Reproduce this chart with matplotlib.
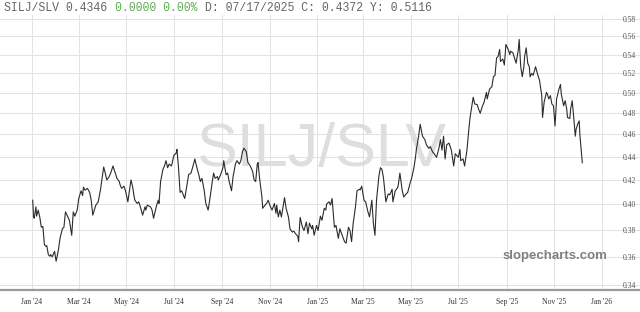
import matplotlib
matplotlib.use("Agg")
import matplotlib.pyplot as plt
from matplotlib.ticker import FixedLocator, NullLocator, FuncFormatter
import pandas as pd

START = pd.Timestamp("2024-01-01")

# days since START
day_offset = [
    1, 2, 3, 5, 6, 8, 10, 12, 14, 16, 18, 19, 21, 23, 24, 26, 29, 31, 34, 36,
    39, 41, 43, 46, 48, 51, 53, 55, 58, 60, 63, 65, 66, 68, 71, 72, 74, 76, 78, 80,
    82, 85, 88, 90, 92, 94, 96, 99, 101, 104, 106, 107, 109, 112, 113, 115, 118, 120, 123, 125,
    127, 129, 131, 132, 135, 137, 139, 142, 145, 146, 148, 150, 152, 154, 156, 158, 160, 162, 163, 165,
    168, 170, 172, 174, 176, 179, 180, 182, 185, 186, 188, 190, 192, 196, 198, 201, 204, 206, 209, 211,
    214, 216, 218, 221, 223, 226, 228, 231, 233, 235, 238, 239, 242, 245, 246, 249, 251, 253, 256, 258,
    261, 263, 266, 268, 270, 272, 275, 277, 280, 283, 285, 287, 289, 290, 292, 295, 296, 299, 301, 303,
    306, 308, 311, 313, 314, 316, 318, 320, 324, 326, 329, 331, 334, 336, 338, 341, 342, 344, 347, 349,
    352, 354, 356, 359, 360, 362, 365, 367, 370, 372, 375, 377, 378, 381, 383, 385, 388, 390, 393, 395,
    398, 401, 403, 406, 408, 410, 412, 415, 417, 420, 421, 423, 426, 428, 431, 433, 436, 438, 440, 442,
    445, 447, 449, 451, 454, 457, 459, 462, 463, 466, 469, 470, 472, 475, 477, 480, 482, 485, 487, 490,
    492, 493, 496, 498, 501, 504, 506, 509, 511, 514, 516, 519, 522, 524, 526, 528, 530, 532, 535, 538,
    541, 543, 545, 547, 549, 550, 553, 555, 558, 560, 562, 566, 568, 571, 573, 575, 578, 580, 583, 584,
    587, 590, 592, 594, 596, 598, 600, 601, 604, 606, 608, 611, 613, 614, 617, 619, 621, 624, 625, 627,
    629, 631, 632, 634, 636, 638, 639, 641, 643, 646, 649, 651, 654, 655, 657, 660, 661, 663, 665, 667,
    669, 671, 673, 676, 678, 679, 682, 684, 686, 687, 690, 691, 693, 695, 697, 698, 700, 702, 703, 706,
]

ratio = [
    .4031, .3896, .3888, .3978, .3904, .3952, .3898, .3818, .3824, .3686, .3674, .3679, .3614, .3602, .3614, .3598, .3638, .3566, .3650, .3734,
    .3806, .3818, .3938, .3898, .3872, .3757, .3938, .3904, .3952, .4045, .4108, .4069, .4138, .4113, .4128, .4118, .4095, .4031, .3912, .3952,
    .3992, .4018, .4121, .4212, .4309, .4257, .4198, .4227, .4257, .4318, .4273, .4257, .4212, .4185, .4159, .4128, .4146, .4108, .4018, .4108,
    .4198, .4146, .4062, .4031, .4005, .4018, .3978, .3912, .3978, .3952, .3992, .3984, .3978, .3952, .3888, .3938, .3992, .4031, .4005, .4185,
    .4288, .4318, .4364, .4303, .4334, .4318, .4348, .4410, .4431, .4464, .4303, .4095, .4108, .4045, .4121, .4243, .4257, .4303, .4379, .4318,
    .4243, .4185, .4212, .4108, .4005, .3952, .4031, .4170, .4257, .4212, .4227, .4198, .4243, .4303, .4364, .4243, .4257, .4185, .4108, .4227,
    .4334, .4364, .4334, .4364, .4443, .4475, .4443, .4348, .4318, .4273, .4198, .4185, .4334, .4348, .4212, .4057, .3966, .3992, .4005, .4031,
    .3978, .3952, .4005, .3926, .3992, .3898, .3952, .3898, .4052, .3966, .3898, .3806, .3781, .3788, .3769, .3750, .3709, .3894, .3818, .3793,
    .3858, .3769, .3850, .3806, .3832, .3757, .3832, .3793, .3904, .3872, .3966, .3952, .4000, .4018, .3992, .4045, .3818, .3832, .3734, .3806,
    .3757, .3709, .3698, .3818, .3793, .3709, .3846, .3978, .4108, .4121, .4115, .4146, .4031, .4018, .3938, .3898, .4031, .3846, .3757, .4031,
    .4227, .4303, .4288, .4212, .4018, .4082, .4075, .4121, .4018, .4108, .4133, .4159, .4257, .4108, .4057, .4082, .4095, .4170, .4212, .4303,
    .4394, .4457, .4584, .4695, .4584, .4552, .4505, .4473, .4489, .4441, .4425, .4394, .4473, .4552, .4457, .4584, .4379, .4505, .4521, .4457,
    .4318, .4425, .4410, .4394, .4464, .4364, .4379, .4318, .4457, .4616, .4760, .4957, .4890, .4885, .4840, .4800, .4873, .4907, .5006, .4940,
    .5038, .5064, .5165, .5181, .5363, .5381, .5456, .5326, .5352, .5289, .5511, .5456, .5400, .5437, .5419, .5363, .5308, .5456, .5567, .5270,
    .5165, .5270, .5381, .5474, .5308, .5270, .5165, .5200, .5181, .5270, .5181, .5133, .4973, .4760, .4907, .5006, .4990, .4940, .4973, .4890,
    .4873, .4679, .4940, .5038, .5086, .4990, .4873, .4923, .4840, .4760, .4750, .4840, .4923, .4760, .4584, .4648, .4695, .4727, .4584, .4346,
]

y_ticks = [0.34, 0.36, 0.38, 0.40, 0.42, 0.44, 0.46, 0.48, 0.50, 0.52, 0.54, 0.56, 0.58]
x_tick_dates = ["2024-01-01", "2024-03-01", "2024-05-01", "2024-07-01", "2024-09-01",
                "2024-11-01", "2025-01-01", "2025-03-01", "2025-05-01", "2025-07-01",
                "2025-09-01", "2025-11-01", "2026-01-01"]
x_tick_labels = ["Jan '24", "Mar '24", "May '24", "Jul '24", "Sep '24", "Nov '24", "Jan '25",
                 "Mar '25", "May '25", "Jul '25", "Sep '25", "Nov '25", "Jan '26"]

W, H = 640, 312
fig = plt.figure(figsize=(W / 100, H / 100), dpi=100)
ax = fig.add_axes([0, 1 - 290 / H, 1, (290 - 15) / H])

dates = START + pd.to_timedelta(day_offset, unit="D")
ax.plot(dates, ratio, color="#2b2b2b", linewidth=0.8, zorder=3)

ax.set_yscale("log")
ax.set_ylim(0.3366, 0.5847)
ax.yaxis.set_major_locator(FixedLocator(y_ticks))
ax.yaxis.set_minor_locator(NullLocator())
ax.yaxis.set_major_formatter(FuncFormatter(lambda v, _: f"{v:.2f}"))
ax.yaxis.tick_right()
ax.tick_params(axis="y", length=0, pad=-12.5, labelsize=5.5, labelcolor="#555555")
for lab in ax.get_yticklabels():
    lab.set_family("Liberation Serif")

ax.set_xlim(START - pd.Timedelta(days=41), START + pd.Timedelta(days=780))
ax.set_xticks(pd.to_datetime(x_tick_dates))
ax.set_xticklabels(x_tick_labels, family="Liberation Serif", fontsize=5.5, color="#333333")
ax.tick_params(axis="x", length=0, pad=6)

for side in ["top", "left", "right"]:
    ax.spines[side].set_visible(False)
ax.spines["bottom"].set_color("#9a9a9a")
ax.spines["bottom"].set_linewidth(1.6)
ax.grid(color="#e2e2e2", linewidth=0.7, zorder=0)
ax.set_axisbelow(True)

# watermarks
ax.text(321 / W, 1 - 150 / H, "SILJ/SLV", transform=fig.transFigure, ha="center", va="center",
        fontsize=44, family="Liberation Sans", color="#dedede", zorder=1)
ax.text(555 / W, 1 - 256 / H, "slopecharts.com", transform=fig.transFigure, ha="center",
        va="center", fontsize=9.5, fontweight="bold", family="Liberation Sans",
        color="#808080", zorder=1)

# header line in monospace, three coloured pieces
char_w = 0.6 * 8.3 * 100 / 72
title_y = 1 - 8 / H
fig.text(4 / W, title_y, "SILJ/SLV 0.4346", family="Liberation Mono", fontsize=8.3,
         color="#666666", va="center")
fig.text((4 + 16 * char_w) / W, title_y, "0.0000 0.00%", family="Liberation Mono",
         fontsize=8.3, color="#5fae55", va="center")
fig.text((4 + 29 * char_w) / W, title_y, "D: 07/17/2025 C: 0.4372 Y: 0.5116",
         family="Liberation Mono", fontsize=8.3, color="#666666", va="center")

fig.savefig("out.png", dpi=100)
